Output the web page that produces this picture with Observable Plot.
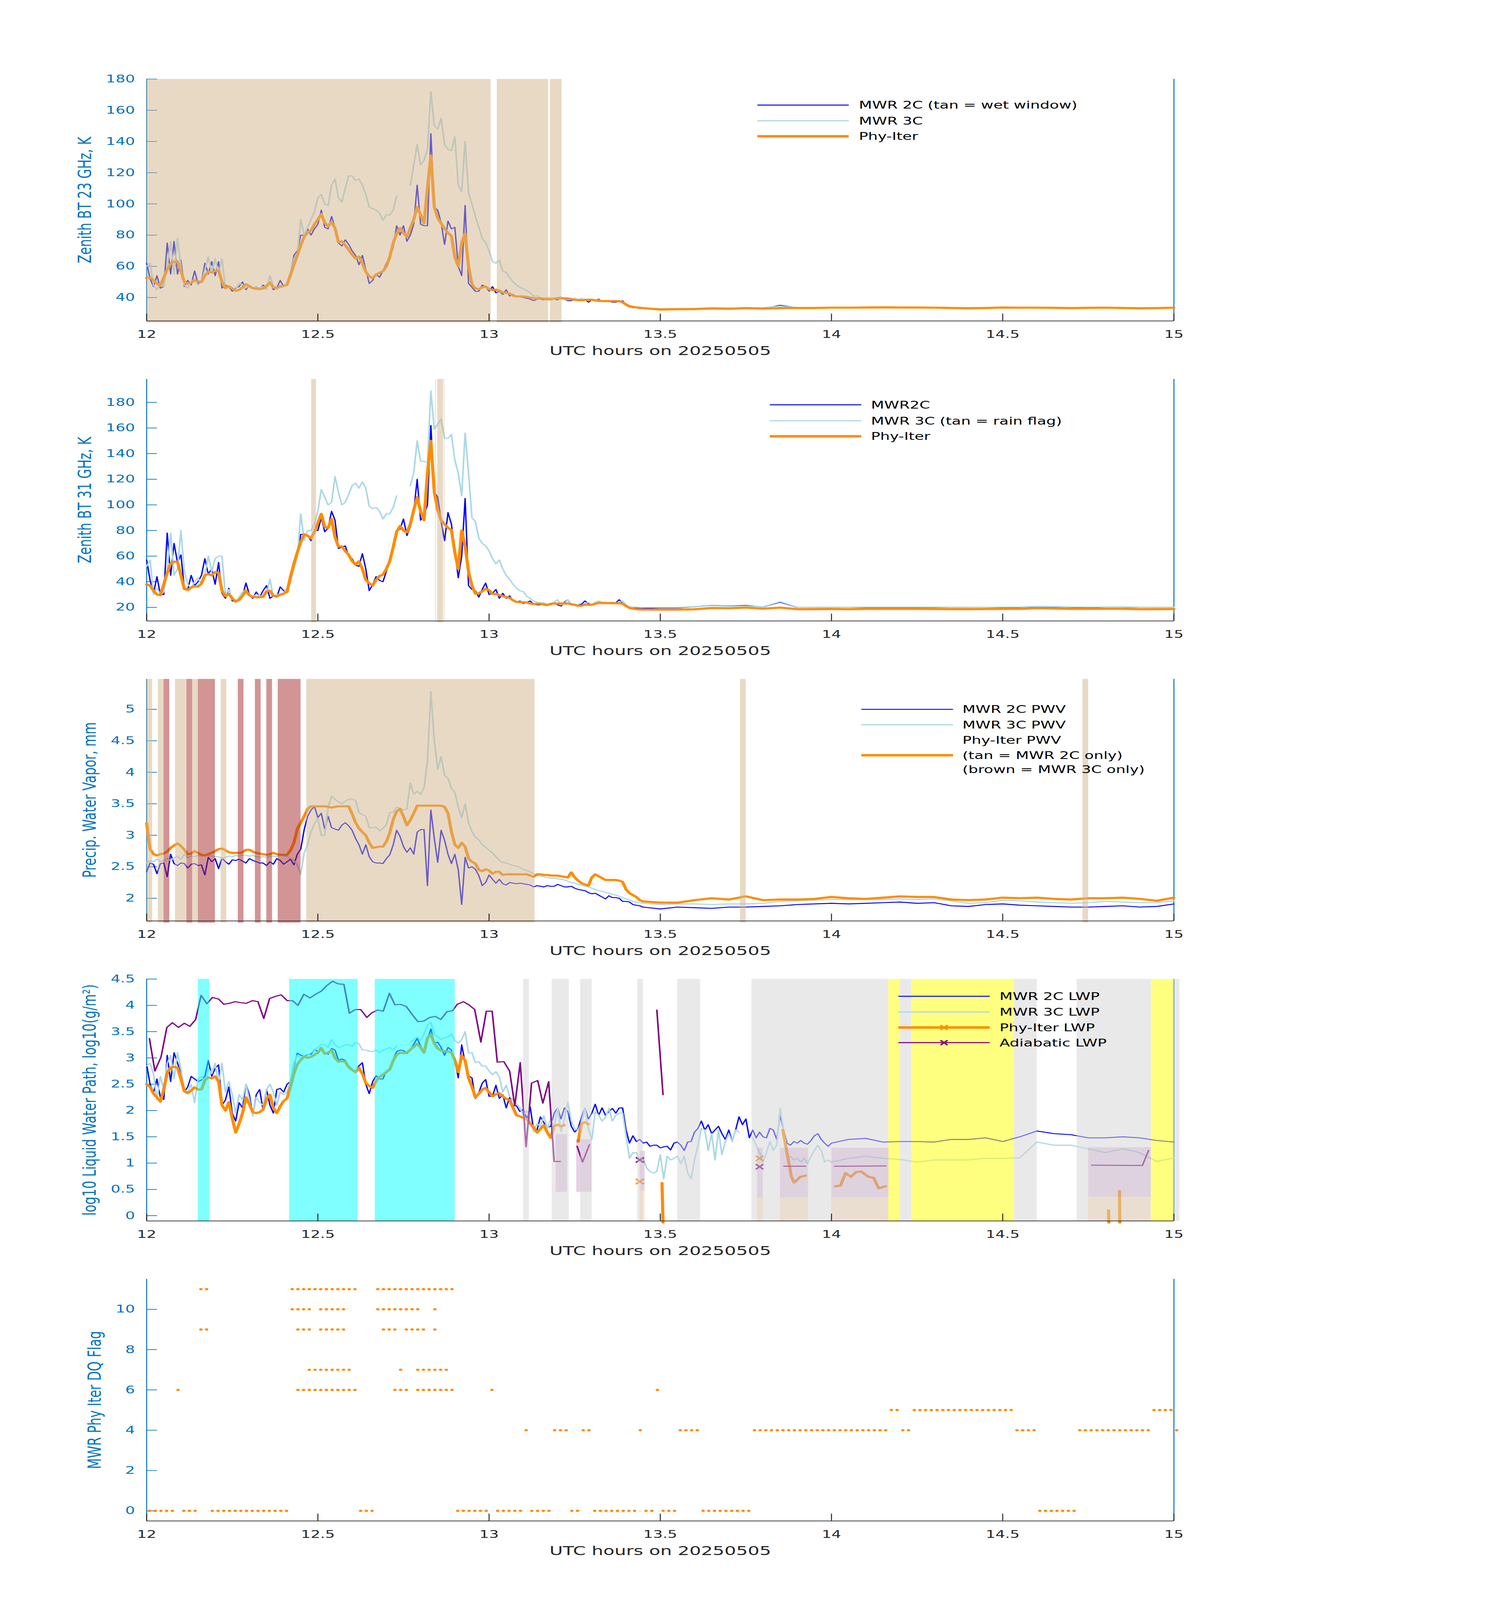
<!DOCTYPE html>
<html>
<head>
<meta charset="utf-8">
<script src="https://cdn.jsdelivr.net/npm/d3@7"></script>
<script src="https://cdn.jsdelivr.net/npm/@observablehq/plot@0.6"></script>
<style>
  html, body { margin: 0; padding: 0; background: #fff; overflow: hidden; }
  #chart { position: relative; width: 3825px; height: 6000px; padding-top: 236px; box-sizing: border-box; transform-origin: 0 0; }
  #chart svg { display: block; max-width: none !important; }
</style>
</head>
<body>
<div id="chart"></div>
<script>
const r3 = v => Math.round(v * 1000) / 1000;
const tDense = d3.range(146).map(i => r3(12 + i * 0.01));          // 12.00 .. 13.45
const tSparse = d3.range(31).map(i => r3(13.5 + i * 0.05));        // 13.50 .. 15.00
const hours = tDense.concat(tSparse);
const lwpHours = tDense.concat(d3.range(1, 56).map(i => r3(13.45 + i * 0.01)),   // 13.46 .. 14.00
                               d3.range(1, 21).map(i => r3(14 + i * 0.05)));     // 14.05 .. 15.00
const xTicks = [12, 12.5, 13, 13.5, 14, 14.5, 15];

const bt23_mwr2c = [
62, 52, 47, 54, 46, 47, 75, 55, 76, 55,
64, 47, 51, 48, 57, 49, 50, 62, 55, 63,
54, 63, 46, 48, 47, 44, 46, 47, 50, 45,
48, 46, 47, 45, 48, 46, 50, 45, 46, 51,
47, 48, 55, 67, 70, 80, 80, 84, 80, 84,
87, 96, 85, 84, 92, 85, 75, 73, 77, 74,
70, 67, 61, 67, 58, 49, 51, 55, 53, 57,
62, 66, 72, 86, 80, 86, 76, 80, 87, 112,
87, 86, 86, 145, 98, 96, 88, 74, 89, 84,
85, 60, 54, 99, 49, 46.5, 44, 44, 48, 47,
44, 47, 43, 44, 42, 45, 41, 42, 40.5, 40.5,
40, 39.5, 39, 38, 39, 39, 38.5, 39, 38.5, 39,
38.5, 40, 39, 38, 38, 39, 38, 38, 39, 37,
38.5, 38, 39, 37.5, 38, 38, 37, 37, 37.5, 38,
35, 34, 33.5, 33.5, 33, 33,
32.5, 32.5, 32.5, 33, 33, 33, 33, 35, 33.5, 33.5,
33.5, 33.5, 33.7, 33.8, 33.7, 33.7, 33.6, 33.5, 33.3, 33.4,
33.6, 33.6, 33.5, 33.5, 33.3, 33.4, 33.4, 33.5, 33.2, 33.2,
33.4];
const bt23_mwr3c = [
60, 62, 48, 45, 50, 47, 60, 76, 55, 78,
60, 48, 46, 50, 52, 48, 50, 58, 66, 56,
65, 55, 65, 46, 47, 46, 45, 49, 48, 46,
48, 46, 47, 46, 47, 45, 54, 47, 45, 48,
47, 49, 55, 65, 68, 90, 80, 85, 90, 95,
104, 106, 100, 99, 112, 116, 104, 101, 110, 118,
118, 115, 116, 112, 106, 98, 97, 96, 94, 89.5,
93, 93, 96, 105, null, null, null, 112, 125, 138,
125, 128, 135, 172, 150, 148, 155, 138, 135, 134,
143, 112, 108, 140, 107, 100, 92, 85, 78, 75,
70, 63, 62, 64, 57, 56, 53, 50, 48, 46.5,
45.5, 44.5, 43, 41, 41, 40, 39.5, 40, 40, 39.5,
40, 40.5, 39, 38.5, 38.5, 39.5, 38.5, 39.5, 38.5, 38,
38.5, 38.5, 38.5, 38, 38, 38, 37.5, 38, 38, 37.5,
35, 34.5, 34, 33.5, 33.5, 33,
33, 33, 33, 33.5, 33.3, 33.3, 33.5, 34.5, 33.6, 33.6,
33.7, 33.7, 33.9, 33.9, 33.8, 33.8, 33.8, 33.6, 33.5, 33.6,
33.7, 33.7, 33.7, 33.6, 33.5, 33.6, 33.6, 33.6, 33.4, 33.4,
33.5];
const bt23_phyiter = [
52.4, 53, 51, 49, 47.5, 53, 58, 61.5, 63, 63,
57, 50, 48.8, 49.5, 51, 50.5, 50, 54, 56.5, 56,
57, 57.5, 50, 46, 47.2, 45.8, 44.3, 44.8, 46.5, 48.5,
47.3, 46, 45.6, 45.5, 45.7, 47.5, 49.5, 46.5, 46.3, 46.8,
47.5, 48.2, 54.5, 61, 67, 73.5, 79, 81.5, 83, 87,
90, 93.5, 88, 85.5, 88.5, 84.5, 75.5, 76, 73.5, 70.5,
67.5, 65, 66.2, 62, 56.5, 53.5, 52.5, 54.7, 55.8, 56.8,
60, 66, 75, 81, 84.5, 81.5, 78.8, 84.5, 90, 98,
93, 87.5, 110, 131, 98, 91, 87.5, 84, 81.5, 79.5,
66, 60, 75, 81, 60, 48.5, 45.8, 45.4, 46.5, 47,
45.5, 44.8, 45, 44.5, 43.2, 42.9, 42.5, 41.2, 40.7, 40.7,
40.6, 40.4, 40, 39.6, 39.4, 39.5, 39.2, 38.9, 38.8, 39.3,
39.5, 39.5, 39.5, 39.4, 39, 38.6, 38.4, 38.2, 38.5, 38.6,
38.6, 38.2, 37.9, 37.7, 37.7, 37.7, 37.7, 37.7, 37.7, 37,
35.5, 34.5, 34, 33.7, 33.5, 33.2,
32.3, 32.5, 32.6, 33.0, 32.8, 33.2, 32.9, 33.2, 33.3, 33.3,
33.5, 33.5, 33.6, 33.7, 33.6, 33.6, 33.5, 33.3, 33.1, 33.3,
33.6, 33.5, 33.5, 33.4, 33.2, 33.4, 33.5, 33.3, 33.1, 33.2,
33.5];
const bt23WetWindow = [[12.0, 13.005], [13.023, 13.173], [13.178, 13.212]];

const bt31_mwr2c = [
57, 41, 31, 44, 30, 30, 78, 45, 70, 55,
61, 35, 34, 45, 37, 40, 45, 58, 46, 50,
38, 55, 31, 27, 35, 25, 24.5, 27, 29, 39,
30, 27, 32, 28, 33, 37, 27, 29, 28, 36,
33, 32, 40, 56, 62, 77, 77, 76, 72, 80,
80, 90, 79, 82, 95, 88, 66, 67, 68, 60,
58, 53, 52, 62, 50, 33, 38, 44, 41, 40,
48, 58, 67, 80, 81, 89, 76, 83, 95, 120,
88, 92, 100, 162, 110, 106, 87, 72, 94, 85,
64, 43, 60, 105, 37, 34, 33, 28, 34, 39,
30, 31, 34, 27, 31, 27, 29, 25, 24, 25,
23, 24, 25, 22.5, 22, 22, 23, 22.5, 22, 24,
22, 21, 24, 26, 22, 22, 22, 22.5, 25, 23,
22, 23, 24, 23, 23.5, 23, 23, 23.5, 26, 23,
21.5, 20, 19.5, 19.5, 19.3, 19.2,
19.6, 19.6, 20.5, 21.5, 21, 21.5, 20.3, 24, 20, 19.9,
19.9, 20, 20, 20, 20, 20, 20, 19.9, 19.9, 20,
20, 20.1, 20.5, 20.4, 20.1, 19.8, 20.2, 20.2, 20, 19.9,
20];
const bt31_mwr3c = [
52, 57, 30, 35, 30, 32, 50, 78, 45, 50,
80, 48, 38, 35, 40, 43, 38, 45, 60, 48,
58, 60, 60, 30, 34, 26, 25, 28, 32, 34,
30, 28, 30, 29, 29, 30, 42, 28, 30, 30,
30, 35, 40, 50, 60, 93, 72, 80, 80, 85,
95, 112, 106, 100, 102, 122, 110, 100, 102, 108,
115, 117, 113, 118, 113, 99, 97, 98, 95, 89,
93, 93, 98, 107, null, null, null, 115, 125, 150,
134, 134, 133, 189, 159, 163, 167, 152, 152, 155,
135, 125, 107, 156, 125, 90, 87, 74, 70, 68,
64, 58, 54, 57, 50, 45, 42, 38, 35, 33,
32.3, 28.6, 27, 25, 24, 23.5, 23.5, 22.5, 22.5, 24,
26, 22, 23, 26, 22.5, 22, 22, 21.5, 23, 24,
22, 24, 25, 24, 24, 23.5, 24, 23, 24, 25,
22, 20.5, 20.3, 20.2, 20, 20,
20.0, 20.0, 20.5, 21.3, 20.8, 21.0, 20.4, 24.5, 20.1, 20.1,
20.1, 20.1, 20.2, 20.2, 20.2, 20.2, 20.2, 20.1, 20.1, 20.1,
20.2, 20.3, 20.7, 20.6, 20.3, 20.2, 20.3, 20.4, 20.1, 20.1,
20.1];
const bt31_phyiter = [
38, 37, 33, 30, 29.5, 38, 47, 54, 55.6, 55.6,
45, 34.3, 33.5, 35.5, 36.5, 36.2, 38.5, 45, 46, 45,
47.5, 47, 33, 28.7, 30.5, 27, 24.5, 25.8, 29, 33,
29.5, 28.2, 27.9, 27.9, 28.2, 32.5, 33, 29, 28.7, 29.8,
30.8, 32, 44, 54, 63, 71, 77, 76, 73.8, 79,
86, 93, 83, 82, 89, 75, 67.4, 67.6, 64, 61,
56, 53.5, 56, 50, 41.5, 38.8, 37, 41.5, 44.5, 45.5,
50, 56, 67, 79, 83.5, 80, 78.5, 85, 96, 106,
95, 88, 125, 150, 110, 96, 87.8, 85, 82, 80.4,
63, 50, 80, 68, 48, 37, 30.7, 31, 32.5, 34.5,
33.5, 30.5, 30.5, 29.5, 28.8, 28, 27.4, 25.5, 24.2, 24.1,
24, 23.8, 23, 22.6, 22.8, 22.8, 22.2, 21.7, 22.8, 23,
23, 23, 23, 23, 22.5, 22, 21.2, 21.3, 22.2, 22,
22, 22.8, 23.5, 23.4, 23.3, 23.3, 23.3, 23.2, 23.2, 22.8,
21, 19.5, 19, 18.6, 18.4, 18.3,
18.3, 18.3, 18.5, 19.5, 19.3, 19.8, 19.0, 19.8, 18.6, 18.6,
18.7, 18.6, 18.8, 18.8, 18.8, 18.8, 18.7, 18.6, 18.6, 18.7,
18.8, 18.8, 19.3, 19.1, 18.8, 18.8, 18.9, 18.9, 18.6, 18.6,
18.7];
const bt31RainFlag = [[12.481, 12.495], [12.843, 12.845], [12.849, 12.866], [12.868, 12.870]];

const pwv_mwr2c = [
2.42, 2.56, 2.54, 2.39, 2.55, 2.56, 2.34, 2.70, 2.55, 2.52,
2.56, 2.55, 2.48, 2.54, 2.55, 2.52, 2.53, 2.37, 2.65, 2.58,
2.63, 2.47, 2.64, 2.58, 2.54, 2.61, 2.60, 2.62, 2.59, 2.56,
2.63, 2.60, 2.58, 2.56, 2.56, 2.52, 2.58, 2.54, 2.63, 2.60,
2.54, 2.58, 2.62, 2.53, 2.70, 2.78, 3.09, 3.30, 3.40, 3.46,
3.28, 3.35, 3.10, 3.30, 3.12, 3.10, 3.08, 3.16, 3.20, 3.15,
3.08, 2.95, 2.85, 2.70, 2.85, 2.66, 2.58, 2.56, 2.56, 2.55,
2.63, 2.69, 2.85, 3.08, 2.98, 2.82, 2.73, 2.80, 2.70, 3.05,
3.09, 3.09, 2.20, 3.40, 2.95, 2.57, 3.08, 2.92, 2.70, 2.55,
2.70, 2.45, 1.90, 2.65, 2.48, 2.50, 2.46, 2.36, 2.20, 2.25,
2.37, 2.30, 2.24, 2.30, 2.23, 2.21, 2.25, 2.24, 2.23, 2.24,
2.23, 2.22, 2.21, 2.18, 2.20, 2.19, 2.18, 2.20, 2.19, 2.19,
2.22, 2.20, 2.18, 2.18, 2.19, 2.16, 2.14, 2.13, 2.12, 2.09,
2.07, 2.08, 2.05, 2.02, 1.99, 2.04, 2.01, 2.01, 2.00, 1.95,
1.95, 1.94, 1.90, 1.89, 1.88, 1.86,
1.83, 1.86, 1.85, 1.84, 1.86, 1.86, 1.87, 1.88, 1.90, 1.91,
1.92, 1.91, 1.92, 1.93, 1.94, 1.92, 1.93, 1.88, 1.87, 1.90,
1.91, 1.89, 1.88, 1.87, 1.86, 1.86, 1.87, 1.88, 1.86, 1.87,
1.91];
const pwv_mwr3c = [
2.56, 2.60, 2.58, 2.62, 2.59, 2.59, 2.63, 2.60, 2.64, 2.67,
2.62, 2.70, 2.64, 2.67, 2.66, 2.68, 2.67, 2.69, 2.68, 2.67,
2.66, 2.66, 2.63, 2.65, 2.67, 2.66, 2.68, 2.67, 2.69, 2.68,
2.67, 2.68, 2.66, 2.65, 2.66, 2.65, 2.66, 2.67, 2.66, 2.69,
2.67, 2.66, 2.63, 2.60, 2.53, 2.38, 2.72, 2.85, 3.06, 3.18,
3.27, 3.00, 3.00, 3.45, 3.62, 3.57, 3.53, 3.50, 3.54, 3.57,
3.58, 3.55, 3.36, 3.33, 3.30, 3.12, 3.12, 3.13, 3.07, 3.11,
3.17, 3.36, 3.37, 3.45, 3.43, 3.40, 3.42, 3.83, 3.65, 3.70,
3.65, 3.75, 4.18, 5.28, 4.50, 4.05, 4.25, 3.95, 3.90, 3.75,
3.68, 3.45, 3.28, 3.50, 3.20, 3.06, 2.97, 2.93, 2.85, 2.81,
2.76, 2.72, 2.66, 2.60, 2.57, 2.56, 2.54, 2.52, 2.51, 2.49,
2.46, 2.44, 2.42, 2.39, 2.36, 2.35, 2.34, 2.33, 2.32, 2.32,
2.31, 2.30, 2.29, 2.27, 2.25, 2.24, 2.22, 2.21, 2.19, 2.18,
2.16, 2.14, 2.12, 2.11, 2.09, 2.08, 2.06, 2.05, 2.03, 2.01,
1.99, 1.97, 1.95, 1.94, 1.93, 1.92,
1.90, 1.91, 1.91, 1.90, 1.91, 1.91, 1.92, 1.95, 1.96, 1.97,
1.98, 1.98, 1.98, 1.98, 1.99, 1.98, 1.99, 1.96, 1.92, 1.93,
1.97, 1.96, 1.94, 1.93, 1.92, 1.93, 1.95, 1.94, 1.93, 1.93,
1.96];
const pwv_phyiter = [
3.19, 2.78, 2.70, 2.68, 2.70, 2.71, 2.74, 2.80, 2.84, 2.87,
2.83, 2.77, 2.70, 2.71, 2.75, 2.72, 2.69, 2.68, 2.70, 2.72,
2.75, 2.78, 2.79, 2.76, 2.73, 2.72, 2.72, 2.72, 2.73, 2.77,
2.77, 2.74, 2.72, 2.71, 2.70, 2.69, 2.70, 2.72, 2.70, 2.69,
2.69, 2.69, 2.76, 2.88, 3.10, 3.20, 3.30, 3.42, 3.46, 3.46,
3.46, 3.46, 3.46, 3.45, 3.44, 3.45, 3.46, 3.46, 3.46, 3.46,
3.34, 3.20, 3.11, 3.05, 3.00, 2.88, 2.80, 2.81, 2.82, 2.82,
2.90, 3.04, 3.25, 3.38, 3.42, 3.30, 3.16, 3.24, 3.35, 3.47,
3.47, 3.47, 3.47, 3.47, 3.47, 3.47, 3.47, 3.45, 3.35, 3.06,
2.85, 2.80, 2.88, 2.82, 2.63, 2.58, 2.55, 2.45, 2.43, 2.46,
2.44, 2.39, 2.42, 2.42, 2.37, 2.38, 2.38, 2.38, 2.38, 2.38,
2.38, 2.38, 2.36, 2.34, 2.38, 2.38, 2.37, 2.37, 2.36, 2.36,
2.36, 2.35, 2.34, 2.33, 2.41, 2.33, 2.28, 2.24, 2.22, 2.20,
2.33, 2.38, 2.35, 2.32, 2.29, 2.29, 2.29, 2.29, 2.28, 2.26,
2.14, 2.08, 2.05, 2.02, 1.97, 1.95,
1.93, 1.93, 1.97, 2.00, 1.98, 2.03, 1.97, 1.98, 1.98, 1.99,
2.02, 2.00, 1.99, 2.01, 2.03, 2.02, 2.02, 1.98, 1.97, 1.98,
2.01, 2.00, 2.01, 1.99, 1.98, 2.00, 2.00, 2.01, 1.99, 1.96,
2.01];
const pwvMwr2cOnlyRuns = [[0, 1], [2, 3], [5, 7], [8, 9], [13, 14], [28, 68], [104, 105], [164, 165]];
const pwvMwr3cOnlyRuns = [[3, 4], [7, 8], [9, 12], [16, 17], [19, 20], [21, 22], [23, 27]];

// LWP on lwpHours: 12.00-13.45 (0.01 h), 13.46-14.00 (0.01 h), 14.05-15.00 (0.05 h)
const lwp_mwr2c = [
2.87, 2.50, 2.34, 2.60, 2.25, 2.21, 3.05, 2.55, 3.10, 2.91,
2.70, 2.35, 2.45, 2.65, 2.60, 2.55, 2.58, 2.65, 2.95, 2.65,
2.80, 2.87, 2.10, 2.20, 2.45, 1.95, 1.80, 2.15, 2.05, 2.50,
2.30, 1.90, 2.30, 2.40, 2.00, 2.40, 2.10, 1.95, 2.40, 2.42,
2.35, 2.50, 2.55, 2.85, 3.09, 3.05, 3.03, 3.06, 3.07, 3.16,
3.12, 3.18, 3.10, 3.07, 3.18, 3.15, 2.96, 2.98, 2.95, 2.85,
2.78, 2.75, 2.85, 2.91, 2.50, 2.32, 2.55, 2.66, 2.60, 2.60,
2.75, 2.80, 2.98, 3.12, 3.15, 3.14, 3.08, 3.15, 3.26, 3.37,
3.23, 3.12, 3.35, 3.55, 3.28, 3.30, 3.20, 3.05, 3.20, 3.15,
2.94, 2.62, 3.25, 2.91, 2.66, 2.62, 2.23, 2.34, 2.52, 2.59,
2.27, 2.27, 2.48, 2.23, 2.30, 2.05, 2.25, 2.09, 2.09, 1.98,
2.02, 1.84, 2.07, 1.63, 1.63, 1.88, 1.77, 1.68, 1.70, 1.95,
2.05, 1.84, 2.05, 1.98, 1.70, 1.59, 1.66, 1.88, 2.05, 1.84,
1.95, 2.12, 1.91, 2.05, 1.91, 1.98, 2.04, 1.95, 2.05, 2.05,
1.63, 1.38, 1.52, 1.41, 1.45, 1.38,
1.40, 1.32, 1.34, 1.34, 1.29, 1.31, 1.32, 1.25, 1.38, 1.40,
1.34, 1.24, 1.40, 1.41, 1.59, 1.66, 1.80, 1.63, 1.73, 1.56,
1.63, 1.70, 1.56, 1.45, 1.63, 1.41, 1.63, 1.88, 1.73, 1.84,
1.48, 1.63, 1.48, 1.59, 1.50, 1.48, 1.66, 1.63, 1.45, 1.91,
1.63, 1.38, 1.34, 1.41, 1.38, 1.43, 1.38, 1.36, 1.43, 1.52,
1.56, 1.45, 1.38, 1.32, 1.38,
1.45, 1.47, 1.40, 1.41, 1.41, 1.40, 1.45, 1.45, 1.48, 1.41,
1.50, 1.61, 1.56, 1.54, 1.48, 1.48, 1.50, 1.48, 1.43, 1.40];
const lwp_mwr3c = [
2.85, 2.90, 2.70, 2.20, 2.65, 2.40, 2.90, 3.05, 2.60, 3.10,
2.80, 2.40, 2.35, 2.50, 2.15, 2.60, 2.65, 2.50, 2.80, 2.70,
2.90, 2.50, 2.90, 2.35, 2.55, 2.30, 1.95, 2.30, 2.20, 2.50,
2.20, 1.90, 2.25, 2.15, 2.10, 2.40, 2.50, 2.35, 2.10, 2.35,
2.30, 2.35, 2.55, 2.90, 3.05, 3.00, 3.00, 3.05, 3.10, 3.15,
3.20, 3.25, 3.25, 3.20, 3.35, 3.25, 3.20, 3.22, 3.25, 3.25,
3.22, 3.30, 3.27, 3.15, 3.15, 3.13, 3.12, 3.15, 3.10, 3.15,
3.17, 3.20, 3.15, 3.23, null, null, null, 3.30, 3.35, 3.40,
3.33, 3.45, 3.62, 3.68, 3.45, 3.40, 3.35, 3.38, 3.40, 3.45,
3.33, 3.28, 3.35, 3.50, 3.09, 3.10, 2.91, 2.93, 2.84, 2.85,
2.75, 2.68, 2.74, 2.64, 2.35, 2.48, 2.27, 2.20, 2.12, 2.05,
1.91, 2.00, 1.80, 1.60, 1.75, 1.70, 1.90, 1.65, 1.85, 1.68,
2.05, 1.60, 1.84, 2.16, 1.80, 1.65, 1.63, 1.77, 2.05, 1.65,
1.45, 1.98, 1.91, 1.80, 1.87, 2.04, 1.80, 1.91, 1.95, 1.95,
1.52, 1.09, 1.20, 1.20, 1.05, 1.09,
0.91, 0.84, 0.81, 0.84, 1.16, 0.70, 1.13, 1.06, 1.09, 1.13,
0.99, 1.13, 0.81, 0.70, 1.06, 1.34, 1.66, 1.63, 1.24, 1.56,
1.06, 1.63, 1.16, 1.41, 1.56, 1.41, 1.63, 1.59, null, null,
null, 1.48, 1.34, 1.20, 1.02, 1.20, 1.41, 1.24, 1.34, 2.04,
1.63, 1.09, 1.13, 1.06, 1.09, 1.02, 1.09, 0.99, 1.13, 1.24,
1.34, 1.24, 1.02, 1.06, 1.02,
1.09, 1.13, 1.09, 1.07, 1.02, 1.06, 1.06, 1.06, 1.09, 1.09,
1.10, 1.40, 1.34, 1.34, 1.27, 1.20, 1.27, 1.20, 1.03, 1.10];
const lwp_phyiter = [
2.50, 2.45, 2.32, 2.25, 2.17, 2.40, 2.72, 2.82, 2.83, 2.82,
2.60, 2.37, 2.33, 2.38, 2.44, 2.40, 2.40, 2.58, 2.63, 2.61,
2.65, 2.55, 2.10, 2.00, 2.16, 1.85, 1.58, 1.75, 1.95, 2.25,
2.12, 1.97, 1.95, 1.97, 2.02, 2.22, 2.30, 2.05, 1.95, 2.08,
2.18, 2.23, 2.45, 2.70, 2.88, 2.96, 3.03, 3.00, 3.02, 3.06,
3.10, 3.19, 3.08, 3.10, 3.15, 3.00, 2.93, 2.94, 2.93, 2.82,
2.77, 2.73, 2.81, 2.70, 2.52, 2.47, 2.43, 2.56, 2.64, 2.68,
2.73, 2.78, 2.95, 3.06, 3.10, 3.09, 3.10, 3.16, 3.21, 3.27,
3.20, 3.10, 3.38, 3.45, 3.28, 3.18, 3.14, 3.13, 3.12, 3.11,
2.96, 2.73, 3.05, 2.95, 2.62, 2.45, 2.25, 2.32, 2.40, 2.43,
2.35, 2.27, 2.31, 2.33, 2.27, 2.22, 2.20, 2.05, 1.91, 1.89,
1.86, 1.84, 1.75, 1.68, 1.58, 1.65, 1.72, 1.58, 1.48, 1.70,
1.73, 1.70, 1.72, null, null, null, 1.41, 1.75, 1.78, 1.74];
const lwp_phyiterLate = [
[13.505, 0.62], [13.508, -0.13], [13.6, null],
[13.858, 1.63], [13.883, 0.74], [13.891, 0.63], [13.909, 0.74], [13.924, 0.76], [13.95, null],
[14.011, 0.56], [14.026, 0.57], [14.041, 0.81], [14.057, 0.74], [14.072, 0.83], [14.087, 0.84],
[14.108, 0.74], [14.123, 0.72], [14.138, 0.52], [14.158, 0.56], [14.5, null],
[14.809, 0.10], [14.810, -0.13], [14.82, null],
[14.841, 0.47], [14.842, -0.13]];
const lwp_adiabatic = [
[12.008, 3.37], [12.024, 2.75], [12.042, 3.02], [12.059, 3.58], [12.075, 3.67], [12.093, 3.58],
[12.110, 3.66], [12.126, 3.60], [12.143, 3.73], [12.159, 4.19], [12.176, 4.03], [12.192, 4.15],
[12.210, 4.12], [12.225, 4.02], [12.242, 4.04], [12.259, 4.07], [12.276, 4.05], [12.291, 4.04],
[12.309, 4.09], [12.325, 4.07], [12.342, 3.75], [12.359, 4.13], [12.376, 4.17], [12.393, 4.20],
[12.410, 4.09], [12.426, 4.09], [12.442, 4.00], [12.459, 4.21], [12.477, 4.14], [12.493, 4.21],
[12.510, 4.27], [12.525, 4.37], [12.543, 4.46], [12.559, 4.41], [12.576, 4.40], [12.592, 3.85],
[12.609, 3.92], [12.625, 3.92], [12.643, 3.77], [12.658, 3.86], [12.674, 3.91], [12.691, 3.89],
[12.709, 4.23], [12.725, 4.01], [12.741, 4.02], [12.758, 3.98], [12.775, 3.83], [12.792, 3.69],
[12.809, 3.70], [12.826, 3.77], [12.843, 3.79], [12.859, 3.73], [12.877, 3.88], [12.894, 3.90],
[12.907, 4.02], [12.925, 4.07], [12.941, 4.01], [12.958, 3.92], [12.976, 3.30], [12.992, 3.89],
[13.009, 3.89], [13.024, 2.92], [13.043, 2.93], [13.060, 2.75], [13.075, 2.09], [13.091, 2.91],
[13.108, 1.31], [13.124, 2.52], [13.142, 2.57], [13.157, 2.14], [13.174, 2.55], [13.190, 1.03],
[13.208, 1.03], [13.23, null],
[13.257, 1.32], [13.273, 1.02], [13.293, 1.35], [13.4, null],
[13.490, 3.91], [13.508, 2.30], [13.7, null],
[13.861, 0.94], [13.924, 0.94], [13.95, null],
[14.009, 0.94], [14.159, 0.945], [14.5, null],
[14.760, 0.96], [14.908, 0.955], [14.926, 1.24]];
const lwpMarkersPhy = [[13.44, 0.65], [13.79, 1.09]];
const lwpMarkersAdiabatic = [[13.44, 1.06], [13.79, 0.93]];
const adiabaticRange = [
[13.195, 13.228, 0.45, 1.55], [13.255, 13.30, 0.45, 1.45], [13.44, 13.455, 0.47, 1.23],
[13.783, 13.80, 0.34, 1.29], [13.85, 13.932, 0.35, 1.29], [14.0, 14.167, 0.35, 1.29],
[14.75, 14.933, 0.36, 1.30]];
const phyiterRange = [
[13.44, 13.455, -0.1, 0.47], [13.783, 13.80, -0.1, 0.34], [13.85, 13.932, -0.1, 0.35],
[14.0, 14.167, -0.1, 0.35], [14.75, 14.933, -0.1, 0.36]];

const span = (a, b) => d3.range(a, b + 1);
const flag0Minutes = [0, 1, 2, 3, 4, 6, 7, 8, ...span(11, 24), 37, 38, 39, ...span(54, 59), ...span(61, 65),
  ...span(67, 70), 74, 75, ...span(78, 85), 87, 88, 90, 91, 92, ...span(97, 105), ...span(156, 162)];
const flag4Minutes = [66, 71, 72, 73, 76, 77, 86, 93, 94, 95, 96, ...span(106, 129), 132, 133,
  ...span(152, 155), ...span(163, 175), 180];
const flag5Minutes = [130, 131, ...span(134, 151), ...span(176, 179)];
const flag6Minutes = [5, ...span(26, 36), 43, 44, 45, ...span(47, 53), 60, 89];
const flag7Minutes = [...span(28, 35), 44, ...span(47, 52)];
const flag9Minutes = [9, 10, 26, 27, 28, ...span(30, 34), 41, 42, 43, ...span(45, 48), 50];
const flag10Minutes = [...span(25, 28), ...span(30, 34), ...span(40, 47), 50];
const flag11Minutes = [9, 10, ...span(25, 36), ...span(40, 53)];

const FONT = "DejaVu Sans";
const AXC = "#0072BD";
const DARK = "#262626";
const C2C = "#0000FF", C3C = "#ADD8E6", CPHY = "#FF8C00", CADI = "#800080";
const TAN = "#D2B48C", BROWN = "#A52A2A";

const series = (arr, grid = hours) => grid.map((t, i) => ({t, v: arr[i] == null ? null : arr[i]}));
const pairs = arr => arr.map(([t, v]) => ({t, v}));
const minuteRuns = runs => runs.map(([a, b]) => [12 + a / 60, 12 + b / 60]);
function runsOf(minutes) {
  const s = [...minutes].sort((a, b) => a - b), out = [];
  for (const m of s) {
    const last = out[out.length - 1];
    if (last && last[1] === m) last[1] = m + 1; else out.push([m, m + 1]);
  }
  return minuteRuns(out);
}
function axisUnder(yTicks) {
  return [
    Plot.ruleX([12, 15], {x: d => d, stroke: AXC, strokeWidth: 2.5}),
    Plot.ruleY(yTicks, {y: d => d, x1: () => 12, x2: () => 12, insetRight: -27, stroke: AXC, strokeWidth: 2.5})
  ];
}
function axisOver(yDomain, yTicks, yLabel, labelDx) {
  const y0 = yDomain[0];
  return [
    Plot.ruleY([y0], {y: d => d, stroke: DARK, strokeWidth: 2.5}),
    Plot.ruleX(xTicks, {x: d => d, y1: () => y0, y2: () => y0, insetTop: -27, stroke: DARK, strokeWidth: 2.5}),
    Plot.axisX({ticks: xTicks, tickSize: 0, tickPadding: 36, fontSize: 39, fill: DARK, label: null, tickFormat: d => String(d)}),
    Plot.axisY({ticks: yTicks, tickSize: 0, tickPadding: 30, fontSize: 39, fill: AXC, label: null, tickFormat: d => String(d)}),
    Plot.text([yLabel], {text: d => d, frameAnchor: "left", dx: labelDx, rotate: -90, fontSize: 47, fill: AXC, textAnchor: "middle", lineAnchor: "middle"}),
    Plot.text(["UTC hours on 20250505"], {text: d => d, frameAnchor: "bottom", dy: 113, fontSize: 47, fill: DARK, lineAnchor: "middle"})
  ];
}
function makePanel(yDomain, marks) {
  return Plot.plot({
    width: 3825, height: 1125,
    marginTop: 60, marginBottom: 158, marginLeft: 375, marginRight: 820,
    style: {fontFamily: FONT, fontSize: "39px", background: "white", overflow: "visible", color: DARK, maxWidth: "none"},
    x: {domain: [12, 15]},
    y: {domain: yDomain},
    marks
  });
}
function addLegend(svg, x0, x1, tx, items) {
  const g = d3.select(svg).append("g").attr("font-family", FONT).attr("font-size", 39)
    .attr("fill", "#000").attr("text-anchor", "start");
  for (const it of items) {
    if (it.stroke) {
      g.append("line").attr("x1", x0).attr("x2", x1).attr("y1", it.y).attr("y2", it.y)
        .attr("stroke", it.stroke).attr("stroke-width", it.w);
    }
    if (it.marker) {
      const mx = (x0 + x1) / 2, s = 9;
      g.append("path").attr("d", `M${mx - s},${it.y - s}L${mx + s},${it.y + s}M${mx - s},${it.y + s}L${mx + s},${it.y - s}`)
        .attr("stroke", it.marker).attr("stroke-width", 5).attr("fill", "none");
    }
    if (it.text) g.append("text").attr("x", tx).attr("y", it.y).attr("dy", "0.35em")
      .attr("text-anchor", "start").text(it.text);
  }
}
const lineOpts = (stroke, w) => ({x: "t", y: "v", stroke, strokeWidth: w, strokeLinejoin: "round"});
const chart = document.getElementById("chart");

// Figure is laid out on a 3825 x 6000 canvas; if the viewport is shorter,
// compress it vertically so the whole figure stays in view.
const fitScale = Math.min(1, (window.innerHeight || 6000) / 6000);
if (fitScale < 1) chart.style.transform = `scaleY(${fitScale})`;

{
  const yD = [25, 180], yT = [40, 60, 80, 100, 120, 140, 160, 180];
  const svg = makePanel(yD, [
    ...axisUnder(yT),
    Plot.line(series(bt23_mwr2c), lineOpts(C2C, 3.5)),
    Plot.line(series(bt23_mwr3c), lineOpts(C3C, 4.2)),
    Plot.line(series(bt23_phyiter), lineOpts(CPHY, 8)),
    Plot.rect(bt23WetWindow, {x1: d => d[0], x2: d => d[1], fill: TAN, fillOpacity: 0.5, insetBottom: -7}),
    ...axisOver(yD, yT, "Zenith BT 23 GHz, K", -158)
  ]);
  addLegend(svg, 1939, 2173, 2199, [
    {y: 158, stroke: C2C, w: 3.5, text: "MWR 2C (tan = wet window)"},
    {y: 217, stroke: C3C, w: 4.5, text: "MWR 3C"},
    {y: 275, stroke: CPHY, w: 9, text: "Phy-Iter"}
  ]);
  chart.appendChild(svg);
}
{
  const yD = [9.4, 198.2], yT = [20, 40, 60, 80, 100, 120, 140, 160, 180];
  const svg = makePanel(yD, [
    ...axisUnder(yT),
    Plot.line(series(bt31_mwr2c), lineOpts(C2C, 3.5)),
    Plot.line(series(bt31_mwr3c), lineOpts(C3C, 4.2)),
    Plot.line(series(bt31_phyiter), lineOpts(CPHY, 8)),
    Plot.rect(bt31RainFlag, {x1: d => d[0], x2: d => d[1], fill: TAN, fillOpacity: 0.5, insetBottom: -7}),
    ...axisOver(yD, yT, "Zenith BT 31 GHz, K", -158)
  ]);
  addLegend(svg, 1971, 2205, 2230, [
    {y: 157, stroke: C2C, w: 3.5, text: "MWR2C"},
    {y: 217, stroke: C3C, w: 4.5, text: "MWR 3C (tan = rain flag)"},
    {y: 275, stroke: CPHY, w: 9, text: "Phy-Iter"}
  ]);
  chart.appendChild(svg);
}
{
  const yD = [1.64, 5.48], yT = [2, 2.5, 3, 3.5, 4, 4.5, 5];
  const svg = makePanel(yD, [
    ...axisUnder(yT),
    Plot.line(series(pwv_mwr2c), lineOpts(C2C, 3.5)),
    Plot.line(series(pwv_mwr3c), lineOpts(C3C, 4.2)),
    Plot.line(series(pwv_phyiter), lineOpts(CPHY, 8)),
    Plot.rect(minuteRuns(pwvMwr2cOnlyRuns), {x1: d => d[0], x2: d => d[1], fill: TAN, fillOpacity: 0.5, insetBottom: -7}),
    Plot.rect(minuteRuns(pwvMwr3cOnlyRuns), {x1: d => d[0], x2: d => d[1], fill: BROWN, fillOpacity: 0.5, insetBottom: -7}),
    ...axisOver(yD, yT, "Precip. Water Vapor, mm", -146)
  ]);
  addLegend(svg, 2205, 2440, 2464, [
    {y: 174, stroke: C2C, w: 3.5, text: "MWR 2C PWV"},
    {y: 232, stroke: C3C, w: 4.5, text: "MWR 3C PWV"},
    {y: 290, text: "Phy-Iter PWV"},
    {y: 346, stroke: CPHY, w: 9, text: "(tan = MWR 2C only)"},
    {y: 400, text: "(brown = MWR 3C only)"}
  ]);
  chart.appendChild(svg);
}
{
  const yD = [-0.1, 4.5], yT = [0, 0.5, 1, 1.5, 2, 2.5, 3, 3.5, 4, 4.5];
  const svg = makePanel(yD, [
    ...axisUnder(yT),
    Plot.line(series(lwp_mwr2c, lwpHours), lineOpts(C2C, 3.5)),
    Plot.line(series(lwp_mwr3c, lwpHours), lineOpts(C3C, 4.2)),
    Plot.line(series(lwp_phyiter, lwpHours), lineOpts(CPHY, 8)),
    Plot.line(pairs(lwp_phyiterLate), lineOpts(CPHY, 8)),
    Plot.line(pairs(lwp_adiabatic), lineOpts(CADI, 4)),
    Plot.dot(pairs(lwpMarkersPhy), {x: "t", y: "v", symbol: "times", r: 9, stroke: CPHY, strokeWidth: 5}),
    Plot.dot(pairs(lwpMarkersAdiabatic), {x: "t", y: "v", symbol: "times", r: 9, stroke: CADI, strokeWidth: 5}),
    Plot.rect(adiabaticRange, {x1: d => d[0], x2: d => d[1], y1: d => d[2], y2: d => d[3], fill: CADI, fillOpacity: 0.18}),
    Plot.rect(phyiterRange, {x1: d => d[0], x2: d => d[1], y1: d => d[2], y2: d => d[3], fill: CPHY, fillOpacity: 0.2}),
    Plot.rect(runsOf(flag4Minutes), {x1: d => d[0], x2: d => d[1], fill: "#D3D3D3", fillOpacity: 0.5}),
    Plot.rect(runsOf(flag11Minutes), {x1: d => d[0], x2: d => d[1], fill: "#00FFFF", fillOpacity: 0.5}),
    Plot.rect(runsOf(flag5Minutes), {x1: d => d[0], x2: d => d[1], fill: "#FFFF00", fillOpacity: 0.5}),
    ...axisOver(yD, yT, "log10 Liquid Water Path, log10(g/m²)", -146)
  ]);
  addLegend(svg, 2300, 2534, 2559, [
    {y: 125, stroke: C2C, w: 3.5, text: "MWR 2C LWP"},
    {y: 184, stroke: C3C, w: 4.5, text: "MWR 3C LWP"},
    {y: 242, stroke: CPHY, w: 9, marker: CPHY, text: "Phy-Iter LWP"},
    {y: 299, stroke: CADI, w: 4, marker: CADI, text: "Adiabatic LWP"}
  ]);
  chart.appendChild(svg);
}
{
  const yD = [-0.5, 11.5], yT = [0, 2, 4, 6, 8, 10];
  const flagSets = [[0, flag0Minutes], [4, flag4Minutes], [5, flag5Minutes], [6, flag6Minutes],
                    [7, flag7Minutes], [9, flag9Minutes], [10, flag10Minutes], [11, flag11Minutes]];
  const pts = flagSets.flatMap(([f, mins]) => mins.map(m => ({t: 12 + (m + 0.5) / 60, v: f})));
  const svg = makePanel(yD, [
    ...axisUnder(yT),
    Plot.dot(pts, {x: "t", y: "v", r: 4.3, fill: CPHY, stroke: "none"}),
    ...axisOver(yD, yT, "MWR Phy Iter DQ Flag", -133)
  ]);
  chart.appendChild(svg);
}
</script>
</body>
</html>
